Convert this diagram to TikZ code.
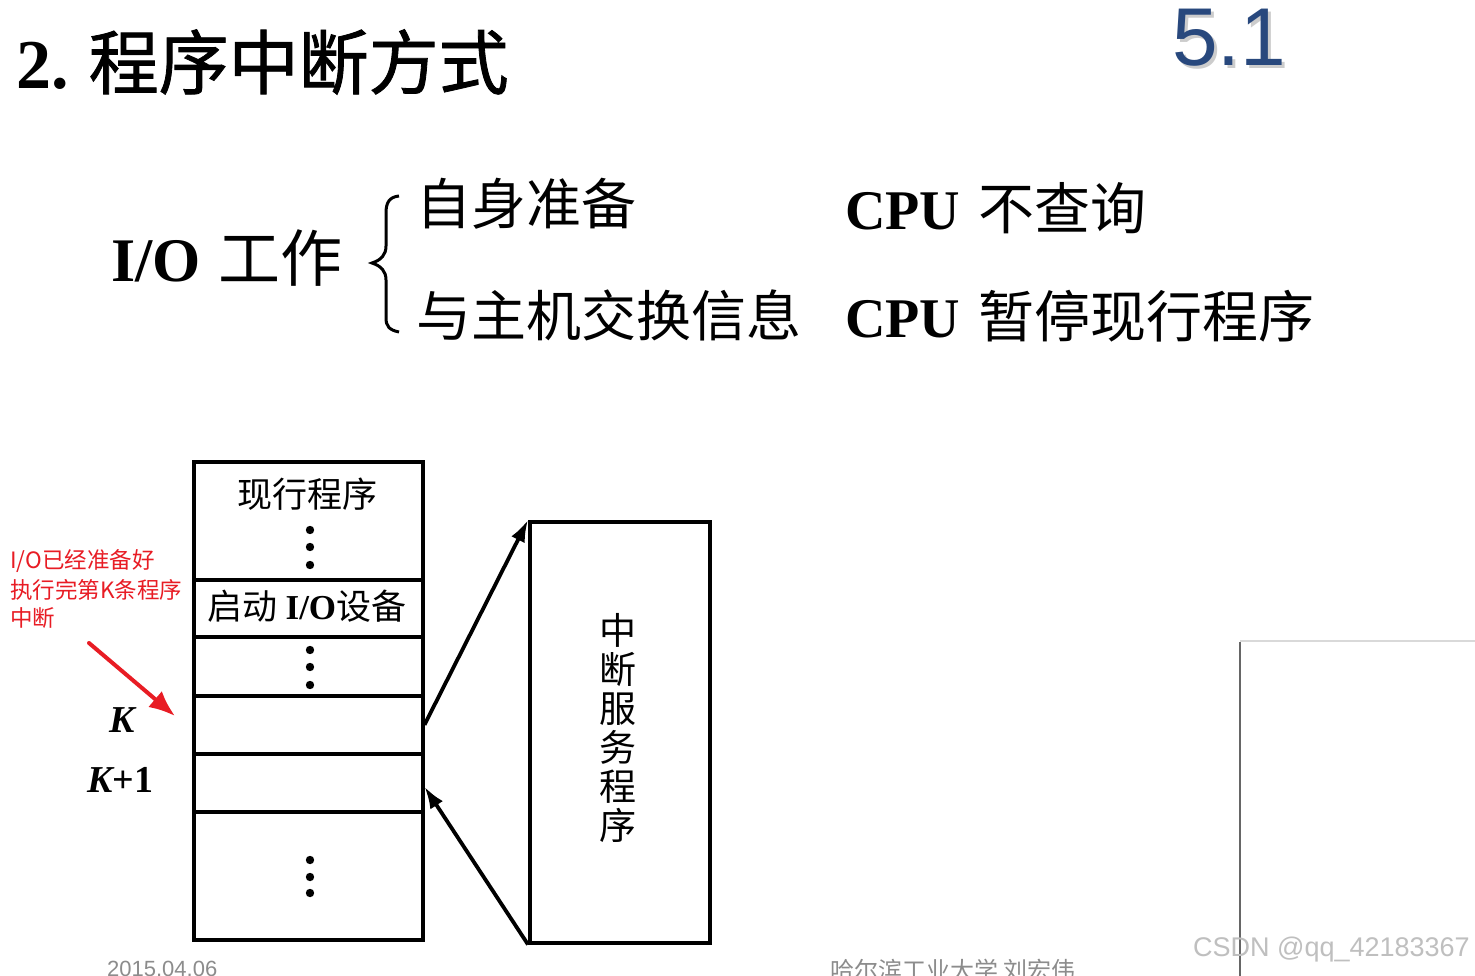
\documentclass[tikz,border=0pt]{standalone}
\usepackage{fontspec}
\setmainfont{Liberation Serif}
\newfontfamily\cjk{Noto Sans CJK SC}
\newfontfamily\cjktitle[FakeBold=1.2]{Noto Sans CJK SC}
\newfontfamily\sansf{Liberation Sans}
\usetikzlibrary{arrows.meta}
\definecolor{slideblue}{RGB}{40,72,125}
\definecolor{notered}{RGB}{232,28,36}
\newcommand{\fs}[1]{\fontsize{#1}{#1}\selectfont}
\begin{document}
\begin{tikzpicture}[x=1pt,y=-1pt,
  txt/.style={inner sep=0pt, anchor=west},
  cell/.style={draw, line width=3.5pt, minimum width=229pt, inner sep=0pt, anchor=north west},
  arr/.style={line width=3.8pt, -{Latex[length=22pt,width=15pt]}},
  redarr/.style={line width=4pt, notered, line cap=round, -{Latex[length=26pt,width=21pt]}},
  footer/.style={inner sep=0pt, anchor=north west, text=black!45}]
\useasboundingbox (0,0) rectangle (1475,976);
\fill[white] (0,0) rectangle (1475,976);

% title
\node[txt] (title) at (16,62) {\fs{70}{\bfseries 2.}\hspace{20pt}{\cjktitle 程序中断方式}};
\node[txt, text=black!20] (secshadow) at (1175,41) {\fs{82}\sansf 5.1};
\node[txt, text=slideblue] (sec) at (1172,38) {\fs{82}\sansf 5.1};

% I/O line
\node[txt] (io) at (111,258) {\fs{62}{\bfseries I/O}\hspace{18pt}{\cjk 工作}};
\draw[line width=3pt] (399,196) .. controls (389,197) and (386,203) .. (386,213) -- (386,246)
  .. controls (386,255) and (381,260) .. (372,263) .. controls (381,266) and (386,271) .. (386,280)
  -- (386,318) .. controls (386,326) and (389,330) .. (399,332);
\node[txt] (self) at (416,204) {\fs{55}\cjk 自身准备};
\node[txt] (xchg) at (416,315) {\fs{55}\cjk 与主机交换信息};
\node[txt] (cpu1) at (845,208) {\fs{56}{\bfseries CPU}\hspace{18pt}{\cjk 不查询}};
\node[txt] (cpu2) at (845,316) {\fs{56}{\bfseries CPU}\hspace{18pt}{\cjk 暂停现行程序}};

% memory column
\node[cell, minimum height=118pt] (c1) at (192,460) {};
\node[cell, minimum height=57pt] (c2) at (192,578) {};
\node[cell, minimum height=59pt] (c3) at (192,635) {};
\node[cell, minimum height=58pt] (c4) at (192,694) {};
\node[cell, minimum height=58pt] (c5) at (192,752) {};
\node[cell, minimum height=128pt] (c6) at (192,810) {};

\node[inner sep=0pt] (cur) at (307,494) {\fs{35}\cjk 现行程序};
\node[inner sep=0pt] (start) at (307,606) {\fs{35}\cjk 启动 {\rmfamily\bfseries I/O}设备};
\foreach \y in {530,547,565} \fill (310,\y) circle (4.2pt);
\foreach \y in {650,667,685} \fill (310,\y) circle (4.2pt);
\foreach \y in {860,877,893} \fill (310,\y) circle (4.2pt);

% service routine
\node[draw, line width=3.5pt, minimum width=180pt, minimum height=421pt, inner sep=0pt, anchor=north west] (srv) at (528,520) {};
\node[inner sep=0pt, align=center, font=\fs{37}\cjk] (srvtxt) at (618,728) {中\\[2pt]断\\[2pt]服\\[2pt]务\\[2pt]程\\[2pt]序};

\draw[arr] (c4.east) -- (srv.north west);
\draw[arr] (srv.south west) -- ([yshift=-4pt]c5.east);

% K labels
\node[inner sep=0pt] (k) at (122,720) {\fs{38}\bfseries\itshape K};
\node[inner sep=0pt] (k1) at (120,780) {\fs{38}\bfseries{\itshape K}+1};

% red annotation
\node[txt, text=notered, align=left, font=\fs{22.5}\cjk] (note) at (10,589) {I/O已经准备好\\[6pt]执行完第K条程序\\[6pt]中断};
\coordinate (ra) at (89,643);
\coordinate (rb) at (175,716);
\draw[redarr] (ra) -- (rb);

% footer
\node[footer] (date) at (107,961) {\fs{22}\sansf 2015.04.06};
\node[footer] (inst) at (830,959) {\fs{24}\cjk 哈尔滨工业大学 刘宏伟};

% white panel lower right
\fill[white] (1240,642) rectangle (1475,976);
\draw[black!15, line width=2pt] (1240,641) -- (1475,641);
\draw[black!60, line width=1.5pt] (1240,642) -- (1240,976);

% watermark
\node[inner sep=0pt, anchor=east, text=black!25] (wm) at (1470,950) {\fs{27}\sansf CSDN @qq\_42183367};
\end{tikzpicture}
\end{document}
